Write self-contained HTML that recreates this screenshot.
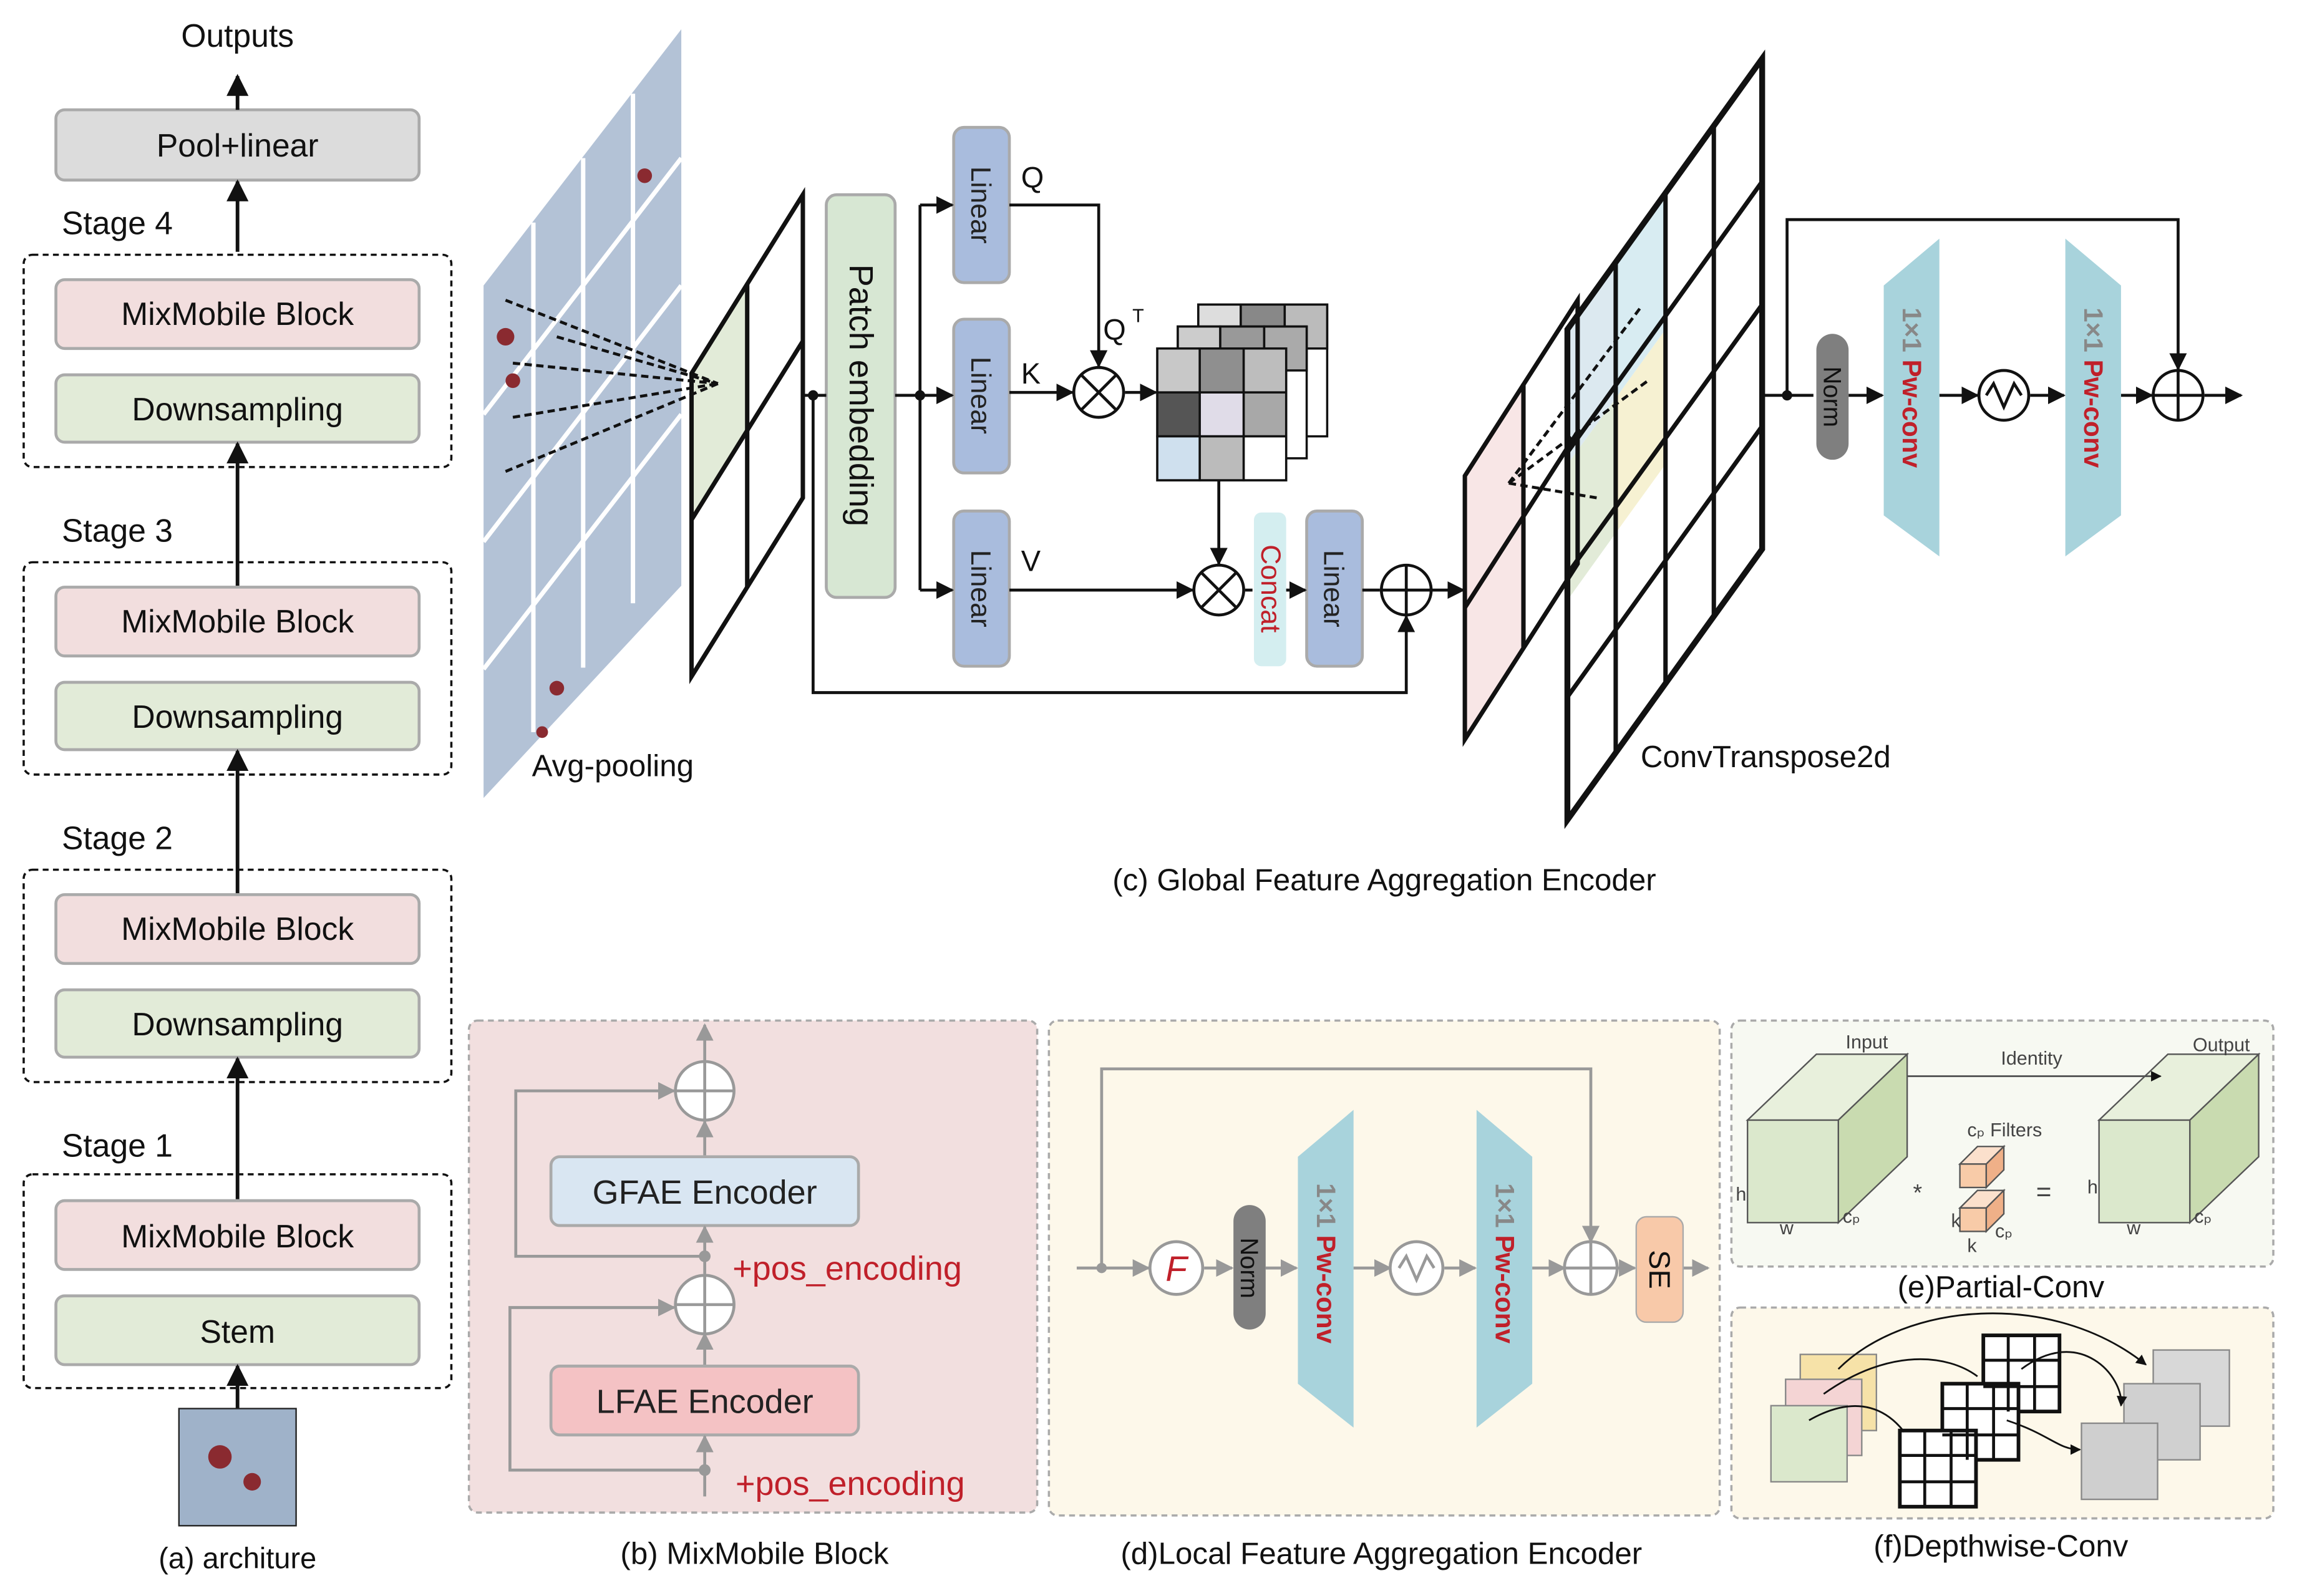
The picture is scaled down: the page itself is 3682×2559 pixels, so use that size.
<!DOCTYPE html>
<html><head><meta charset="utf-8"><style>html,body{margin:0;padding:0;background:#fff}svg{display:block}</style></head><body>
<svg width="3682" height="2559" viewBox="0 0 1568 1090" xmlns="http://www.w3.org/2000/svg" font-family="Liberation Sans, sans-serif">
<defs>
<marker id="a" viewBox="0 0 10 10" refX="9" refY="5" markerWidth="6" markerHeight="6" orient="auto-start-reverse"><path d="M0,0L10,5L0,10z" fill="#111"/></marker>
<marker id="g" viewBox="0 0 10 10" refX="9" refY="5" markerWidth="6" markerHeight="6" orient="auto-start-reverse"><path d="M0,0L10,5L0,10z" fill="#999"/></marker>
</defs>
<!-- (a) -->
<g stroke="#aaa" stroke-width="2">
<rect x="38" y="75" width="248" height="48" rx="6" fill="#dcdcdc"/>
<rect x="38" y="191" width="248" height="47" rx="6" fill="#f2dede"/>
<rect x="38" y="256" width="248" height="46" rx="6" fill="#e2ebd8"/>
<rect x="38" y="401" width="248" height="47" rx="6" fill="#f2dede"/>
<rect x="38" y="466" width="248" height="46" rx="6" fill="#e2ebd8"/>
<rect x="38" y="611" width="248" height="47" rx="6" fill="#f2dede"/>
<rect x="38" y="676" width="248" height="46" rx="6" fill="#e2ebd8"/>
<rect x="38" y="820" width="248" height="47" rx="6" fill="#f2dede"/>
<rect x="38" y="885" width="248" height="47" rx="6" fill="#e2ebd8"/>
</g>
<g fill="none" stroke="#111" stroke-width="1.5" stroke-dasharray="4,3">
<rect x="16" y="174" width="292" height="145" rx="6"/>
<rect x="16" y="384" width="292" height="145" rx="6"/>
<rect x="16" y="594" width="292" height="145" rx="6"/>
<rect x="16" y="802" width="292" height="146" rx="6"/>
</g>
<g stroke="#111" stroke-width="2.5" marker-end="url(#a)">
<line x1="162" y1="75" x2="162" y2="52"/><line x1="162" y1="172" x2="162" y2="124"/>
<line x1="162" y1="400" x2="162" y2="303"/><line x1="162" y1="610" x2="162" y2="513"/>
<line x1="162" y1="819" x2="162" y2="723"/><line x1="162" y1="962" x2="162" y2="933"/>
</g>
<g font-size="22" fill="#111" text-anchor="middle">
<text x="162" y="32">Outputs</text>
<text x="162" y="107">Pool+linear</text>
<text x="162" y="222">MixMobile Block</text><text x="162" y="287">Downsampling</text>
<text x="162" y="432">MixMobile Block</text><text x="162" y="497">Downsampling</text>
<text x="162" y="642">MixMobile Block</text><text x="162" y="707">Downsampling</text>
<text x="162" y="852">MixMobile Block</text><text x="162" y="917">Stem</text>
<text x="162" y="1071" font-size="20">(a) architure</text>
</g>
<g font-size="22" fill="#111"><text x="42" y="160">Stage 4</text><text x="42" y="370">Stage 3</text><text x="42" y="580">Stage 2</text><text x="42" y="790">Stage 1</text></g>
<rect x="122" y="962" width="80" height="80" fill="#9fb2c9" stroke="#222"/>
<circle cx="150" cy="995" r="8" fill="#8a2a30"/><circle cx="172" cy="1012" r="6" fill="#8a2a30"/>
<!-- (c) -->
<polygon points="330,195 465,20 465,400 330,545" fill="#b3c2d6"/>
<g stroke="#fff" stroke-width="3">
<line x1="364" y1="152" x2="364" y2="500"/><line x1="398" y1="108" x2="398" y2="456"/><line x1="432" y1="64" x2="432" y2="412"/>
<line x1="330" y1="283" x2="465" y2="108"/><line x1="330" y1="370" x2="465" y2="195"/><line x1="330" y1="457" x2="465" y2="283"/>
</g>
<g fill="#8a2a30"><circle cx="345" cy="230" r="6"/><circle cx="350" cy="260" r="5"/><circle cx="440" cy="120" r="5"/><circle cx="380" cy="470" r="5"/><circle cx="370" cy="500" r="4"/></g>
<text x="363" y="530" font-size="21" fill="#111">Avg-pooling</text>
<polygon points="472,255 510,194 510,292 472,355" fill="#e2ebd8"/>
<g fill="none" stroke="#111" stroke-width="3">
<polygon points="472,255 548,133 548,340 472,462"/>
<line x1="510" y1="194" x2="510" y2="401"/><line x1="472" y1="355" x2="548" y2="233"/>
</g>
<g stroke="#111" stroke-width="2" stroke-dasharray="5,3">
<line x1="345" y1="205" x2="490" y2="262"/><line x1="350" y1="248" x2="490" y2="262"/><line x1="350" y1="285" x2="490" y2="262"/><line x1="345" y1="322" x2="490" y2="262"/><line x1="380" y1="230" x2="490" y2="262"/>
</g>
<rect x="564" y="133" width="47" height="275" rx="7" fill="#d7e7d3" stroke="#aaa" stroke-width="2"/>
<text transform="translate(580,270) rotate(90)" font-size="23" text-anchor="middle" fill="#111">Patch embedding</text>
<g stroke="#aaa" stroke-width="2" fill="#a9bcdd">
<rect x="651" y="87" width="38" height="106" rx="7"/><rect x="651" y="218" width="38" height="105" rx="7"/><rect x="651" y="349" width="38" height="106" rx="7"/>
<rect x="892" y="349" width="38" height="106" rx="7"/>
</g>
<rect x="856" y="350" width="22" height="105" rx="5" fill="#d4eef0"/>
<g font-size="19" text-anchor="middle" fill="#222">
<text transform="translate(663,140) rotate(90)">Linear</text><text transform="translate(663,270) rotate(90)">Linear</text><text transform="translate(663,402) rotate(90)">Linear</text><text transform="translate(904,402) rotate(90)">Linear</text>
<text transform="translate(861,402) rotate(90)" fill="#c0202a">Concat</text>
</g>
<g fill="none" stroke="#111" stroke-width="2">
<line x1="548" y1="270" x2="564" y2="270"/><line x1="611" y1="270" x2="628" y2="270"/>
<polyline points="555,270 555,473 960,473 960,421" marker-end="url(#a)"/>
<polyline points="628,140 628,403"/>
<line x1="628" y1="140" x2="650" y2="140" marker-end="url(#a)"/><line x1="628" y1="270" x2="650" y2="270" marker-end="url(#a)"/><line x1="628" y1="403" x2="650" y2="403" marker-end="url(#a)"/>
<polyline points="689,140 750,140 750,250" marker-end="url(#a)"/>
<line x1="689" y1="268" x2="732" y2="268" marker-end="url(#a)"/>
<line x1="768" y1="268" x2="789" y2="268" marker-end="url(#a)"/>
<line x1="832" y1="328" x2="832" y2="385" marker-end="url(#a)"/>
<line x1="689" y1="403" x2="814" y2="403" marker-end="url(#a)"/>
<line x1="850" y1="403" x2="855" y2="403"/><line x1="878" y1="403" x2="891" y2="403" marker-end="url(#a)"/>
<line x1="930" y1="403" x2="942" y2="403"/>
<line x1="977" y1="403" x2="999" y2="403" marker-end="url(#a)"/>
<circle cx="750" cy="268" r="17" fill="#fff"/><path d="M738,256L762,280M762,256L738,280"/>
<circle cx="832" cy="403" r="17" fill="#fff"/><path d="M820,391L844,415M844,391L820,415"/>
<circle cx="960" cy="403" r="17" fill="#fff"/><path d="M943,403H977M960,386V420"/>
</g>
<g fill="#111"><circle cx="555" cy="270" r="3.5"/><circle cx="628" cy="270" r="3.5"/></g>
<g font-size="20" fill="#111"><text x="697" y="128">Q</text><text x="697" y="262">K</text><text x="697" y="390">V</text><text x="753" y="232">Q</text><text x="773" y="220" font-size="13">T</text></g>
<!-- matrices -->
<g stroke="#111" stroke-width="1.5">
<rect x="818" y="208" width="88" height="90" fill="#fff"/>
<rect x="818" y="208" width="29" height="30" fill="#ddd"/><rect x="847" y="208" width="30" height="30" fill="#888"/><rect x="877" y="208" width="29" height="30" fill="#bbb"/>
<rect x="804" y="223" width="88" height="90" fill="#fff"/>
<rect x="804" y="223" width="29" height="30" fill="#ccc"/><rect x="833" y="223" width="30" height="30" fill="#999"/><rect x="863" y="223" width="29" height="30" fill="#aaa"/>
<rect x="790" y="238" width="88" height="90" fill="#fff"/>
<rect x="790" y="238" width="29" height="30" fill="#c8c8c8"/><rect x="819" y="238" width="30" height="30" fill="#8f8f8f"/><rect x="849" y="238" width="29" height="30" fill="#bdbdbd"/>
<rect x="790" y="268" width="29" height="30" fill="#555"/><rect x="819" y="268" width="30" height="30" fill="#e0dce8"/><rect x="849" y="268" width="29" height="30" fill="#a8a8a8"/>
<rect x="790" y="298" width="29" height="30" fill="#cfe0ee"/><rect x="819" y="298" width="30" height="30" fill="#bbb"/><rect x="849" y="298" width="29" height="30" fill="#fff"/>
</g>
<!-- convtranspose -->
<polygon points="1000,325 1040,262 1040,442 1000,505" fill="#f8e6e6"/>
<polygon points="1103,180 1137,133 1137,225 1103,272" fill="#d8ecf2"/>
<polygon points="1103,272 1137,225 1137,317 1103,364" fill="#f6f1d2"/>
<polygon points="1070,317 1103,272 1103,364 1070,410" fill="#e2ebd8"/>
<polygon points="1070,225 1103,180 1103,272 1070,317" fill="#dce9f0"/>
<g fill="none" stroke="#111" stroke-width="3">
<polygon points="1000,325 1077,205 1077,385 1000,505"/>
<line x1="1040" y1="262" x2="1040" y2="442"/><line x1="1000" y1="415" x2="1077" y2="295"/>
<polygon points="1070,225 1203,40 1203,375 1070,560" stroke-width="4"/>
<line x1="1103" y1="179" x2="1103" y2="514"/><line x1="1137" y1="133" x2="1137" y2="468"/><line x1="1170" y1="86" x2="1170" y2="421"/>
<line x1="1070" y1="309" x2="1203" y2="124"/><line x1="1070" y1="392" x2="1203" y2="208"/><line x1="1070" y1="476" x2="1203" y2="291"/>
</g>
<g stroke="#111" stroke-width="2" stroke-dasharray="5,3">
<line x1="1030" y1="330" x2="1120" y2="210"/><line x1="1030" y1="330" x2="1125" y2="260"/><line x1="1030" y1="330" x2="1090" y2="340"/><line x1="1030" y1="330" x2="1060" y2="290"/>
</g>
<text x="1120" y="524" font-size="21" fill="#111">ConvTranspose2d</text>
<g fill="none" stroke="#111" stroke-width="2">
<line x1="1203" y1="270" x2="1238" y2="270"/><line x1="1262" y1="270" x2="1285" y2="270" marker-end="url(#a)"/>
<line x1="1324" y1="270" x2="1350" y2="270" marker-end="url(#a)"/><line x1="1386" y1="270" x2="1409" y2="270" marker-end="url(#a)"/>
<line x1="1448" y1="270" x2="1469" y2="270" marker-end="url(#a)"/><line x1="1505" y1="270" x2="1530" y2="270" marker-end="url(#a)"/>
<polyline points="1220,270 1220,150 1487,150 1487,252" marker-end="url(#a)"/>
<circle cx="1368" cy="270" r="17" fill="#fff"/><path d="M1356,270l5,-8l7,16l7,-16l5,8"/>
<circle cx="1487" cy="270" r="17" fill="#fff"/><path d="M1470,270H1504M1487,253V287"/>
</g>
<circle cx="1220" cy="270" r="3.5" fill="#111"/>
<rect x="1240" y="228" width="22" height="86" rx="11" fill="#7f7f7f"/>
<text transform="translate(1245,271) rotate(90)" font-size="17" text-anchor="middle" fill="#111">Norm</text>
<polygon points="1286,195 1324,163 1324,380 1286,352" fill="#a8d3dc"/>
<polygon points="1410,163 1448,195 1448,352 1410,380" fill="#a8d3dc"/>
<g font-size="18" font-weight="bold"><text transform="translate(1299,210) rotate(90)" fill="#888">1×1 <tspan fill="#c0202a">Pw-conv</tspan></text>
<text transform="translate(1423,210) rotate(90)" fill="#888">1×1 <tspan fill="#c0202a">Pw-conv</tspan></text></g>
<text x="945" y="608" font-size="21" text-anchor="middle" fill="#111">(c) Global Feature Aggregation Encoder</text>
<!-- (b) -->
<rect x="320" y="697" width="388" height="336" rx="6" fill="#f2dfdf" stroke="#aaa" stroke-dasharray="4,3" stroke-width="1.5"/>
<rect x="376" y="790" width="210" height="47" rx="6" fill="#d9e6f2" stroke="#aaa" stroke-width="2"/>
<rect x="376" y="933" width="210" height="47" rx="6" fill="#f4c2c4" stroke="#aaa" stroke-width="2"/>
<g fill="none" stroke="#999" stroke-width="2">
<line x1="481" y1="1022" x2="481" y2="981" marker-end="url(#g)"/><line x1="481" y1="932" x2="481" y2="911" marker-end="url(#g)"/>
<line x1="481" y1="870" x2="481" y2="838" marker-end="url(#g)"/><line x1="481" y1="789" x2="481" y2="766" marker-end="url(#g)"/>
<line x1="481" y1="725" x2="481" y2="700" marker-end="url(#g)"/>
<polyline points="481,858 352,858 352,745 460,745" marker-end="url(#g)"/>
<polyline points="481,1004 348,1004 348,893 460,893" marker-end="url(#g)"/>
<circle cx="481" cy="745" r="20" fill="#fff"/><path d="M461,745H501M481,725V765"/>
<circle cx="481" cy="891" r="20" fill="#fff"/><path d="M461,891H501M481,871V911"/>
</g>
<g fill="#999"><circle cx="481" cy="858" r="4"/><circle cx="481" cy="1004" r="4"/></g>
<g font-size="23" fill="#222" text-anchor="middle"><text x="481" y="822">GFAE Encoder</text><text x="481" y="965">LFAE Encoder</text></g>
<g font-size="23" fill="#c0202a"><text x="500" y="874">+pos_encoding</text><text x="502" y="1021">+pos_encoding</text></g>
<text x="515" y="1068" font-size="21" text-anchor="middle" fill="#111">(b) MixMobile Block</text>
<!-- (d) -->
<rect x="716" y="697" width="458" height="338" rx="6" fill="#fdf8ea" stroke="#aaa" stroke-dasharray="4,3" stroke-width="1.5"/>
<polygon points="886,790 924,758 924,975 886,945" fill="#a8d3dc"/>
<polygon points="1008,758 1046,790 1046,945 1008,975" fill="#a8d3dc"/>
<g fill="none" stroke="#999" stroke-width="2">
<line x1="735" y1="866" x2="784" y2="866" marker-end="url(#g)"/><line x1="822" y1="866" x2="841" y2="866" marker-end="url(#g)"/>
<line x1="864" y1="866" x2="885" y2="866" marker-end="url(#g)"/><line x1="924" y1="866" x2="949" y2="866" marker-end="url(#g)"/>
<line x1="986" y1="866" x2="1007" y2="866" marker-end="url(#g)"/><line x1="1046" y1="866" x2="1068" y2="866" marker-end="url(#g)"/>
<line x1="1104" y1="866" x2="1116" y2="866" marker-end="url(#g)"/><line x1="1149" y1="866" x2="1166" y2="866" marker-end="url(#g)"/>
<polyline points="752,866 752,730 1086,730 1086,848" marker-end="url(#g)"/>
<circle cx="803" cy="866" r="18" fill="#fff"/>
<circle cx="967" cy="866" r="18" fill="#fff"/><path d="M955,866l5,-8l7,16l7,-16l5,8"/>
<circle cx="1086" cy="866" r="18" fill="#fff"/><path d="M1068,866H1104M1086,848V884"/>
</g>
<circle cx="752" cy="866" r="3.5" fill="#999"/>
<text x="803" y="875" font-size="24" font-style="italic" fill="#c0202a" text-anchor="middle">F</text>
<rect x="842" y="823" width="22" height="85" rx="11" fill="#7f7f7f"/>
<text transform="translate(847,866) rotate(90)" font-size="17" text-anchor="middle" fill="#111">Norm</text>
<g font-size="18" font-weight="bold"><text transform="translate(899,808) rotate(90)" fill="#888">1×1 <tspan fill="#c0202a">Pw-conv</tspan></text>
<text transform="translate(1021,808) rotate(90)" fill="#888">1×1 <tspan fill="#c0202a">Pw-conv</tspan></text></g>
<rect x="1117" y="831" width="32" height="72" rx="7" fill="#f8c9a9" stroke="#aaa"/>
<text transform="translate(1126,867) rotate(90)" font-size="20" text-anchor="middle" fill="#111">SE</text>
<text x="943" y="1068" font-size="21" text-anchor="middle" fill="#111">(d)Local Feature Aggregation Encoder</text>
<!-- (e) -->
<rect x="1182" y="697" width="370" height="168" rx="6" fill="#f7f9f2" stroke="#aaa" stroke-dasharray="4,3" stroke-width="1.5"/>
<g stroke="#555" stroke-width="1">
<polygon points="1193,765 1255,765 1302,720 1240,720" fill="#e8f0dc"/><polygon points="1255,765 1302,720 1302,790 1255,835" fill="#c9dbb0"/><rect x="1193" y="765" width="62" height="70" fill="#dbe8cc"/>
<polygon points="1433,765 1495,765 1542,720 1480,720" fill="#e8f0dc"/><polygon points="1495,765 1542,720 1542,790 1495,835" fill="#c9dbb0"/><rect x="1433" y="765" width="62" height="70" fill="#dbe8cc"/>
<polygon points="1338,795 1356,795 1368,783 1350,783" fill="#fbe0cc"/><rect x="1338" y="795" width="18" height="16" fill="#f8cba8"/><polygon points="1356,795 1368,783 1368,799 1356,811" fill="#efb088"/>
<polygon points="1338,825 1356,825 1368,813 1350,813" fill="#fbe0cc"/><rect x="1338" y="825" width="18" height="16" fill="#f8cba8"/><polygon points="1356,825 1368,813 1368,829 1356,841" fill="#efb088"/>
</g>
<line x1="1302" y1="735" x2="1475" y2="735" stroke="#555" stroke-width="1.2" marker-end="url(#a)"/>
<g font-size="13" fill="#444">
<text x="1260" y="716">Input</text><text x="1366" y="727">Identity</text><text x="1497" y="718">Output</text>
<text x="1343" y="776">cₚ Filters</text><text x="1185" y="820">h</text><text x="1215" y="843">w</text><text x="1258" y="835">cₚ</text>
<text x="1425" y="815">h</text><text x="1452" y="843">w</text><text x="1498" y="835">cₚ</text>
<text x="1306" y="820" font-size="16">*</text><text x="1390" y="820" font-size="18">=</text><text x="1332" y="838">k</text><text x="1343" y="855">k</text><text x="1362" y="845">cₚ</text>
</g>
<text x="1366" y="886" font-size="21" text-anchor="middle" fill="#111">(e)Partial-Conv</text>
<!-- (f) -->
<rect x="1182" y="893" width="370" height="144" rx="6" fill="#fdf8ea" stroke="#aaa" stroke-dasharray="4,3" stroke-width="1.5"/>
<g stroke="#888" stroke-width="1">
<rect x="1229" y="925" width="52" height="52" fill="#f6e2a8"/><rect x="1219" y="942" width="52" height="52" fill="#f4d4d4"/><rect x="1209" y="960" width="52" height="52" fill="#dbe8cc"/>
<rect x="1470" y="922" width="52" height="52" fill="#d8d8d8"/><rect x="1450" y="945" width="52" height="52" fill="#d0d0d0"/><rect x="1421" y="972" width="52" height="52" fill="#cfcfcf"/>
</g>
<g fill="#fff" stroke="#111" stroke-width="2.5">
<rect x="1354" y="912" width="52" height="52"/><rect x="1326" y="945" width="52" height="52"/><rect x="1297" y="977" width="52" height="52"/>
</g>
<g stroke="#111" stroke-width="2">
<path d="M1371,912V964M1389,912V964M1354,929H1406M1354,947H1406"/>
<path d="M1343,945V997M1361,945V997M1326,962H1378M1326,980H1378"/>
<path d="M1314,977V1029M1332,977V1029M1297,994H1349M1297,1012H1349"/>
</g>
<g fill="none" stroke="#111" stroke-width="1.2">
<path d="M1255,935C1300,890 1400,880 1465,932" marker-end="url(#a)"/>
<path d="M1245,952C1290,920 1330,925 1350,940"/>
<path d="M1380,935C1420,905 1450,940 1448,960" marker-end="url(#a)"/>
<path d="M1370,970C1400,980 1405,990 1420,990" marker-end="url(#a)"/>
<path d="M1235,970C1270,950 1290,965 1300,978"/>
</g>
<text x="1366" y="1063" font-size="21" text-anchor="middle" fill="#111">(f)Depthwise-Conv</text>
</svg>
</body></html>
